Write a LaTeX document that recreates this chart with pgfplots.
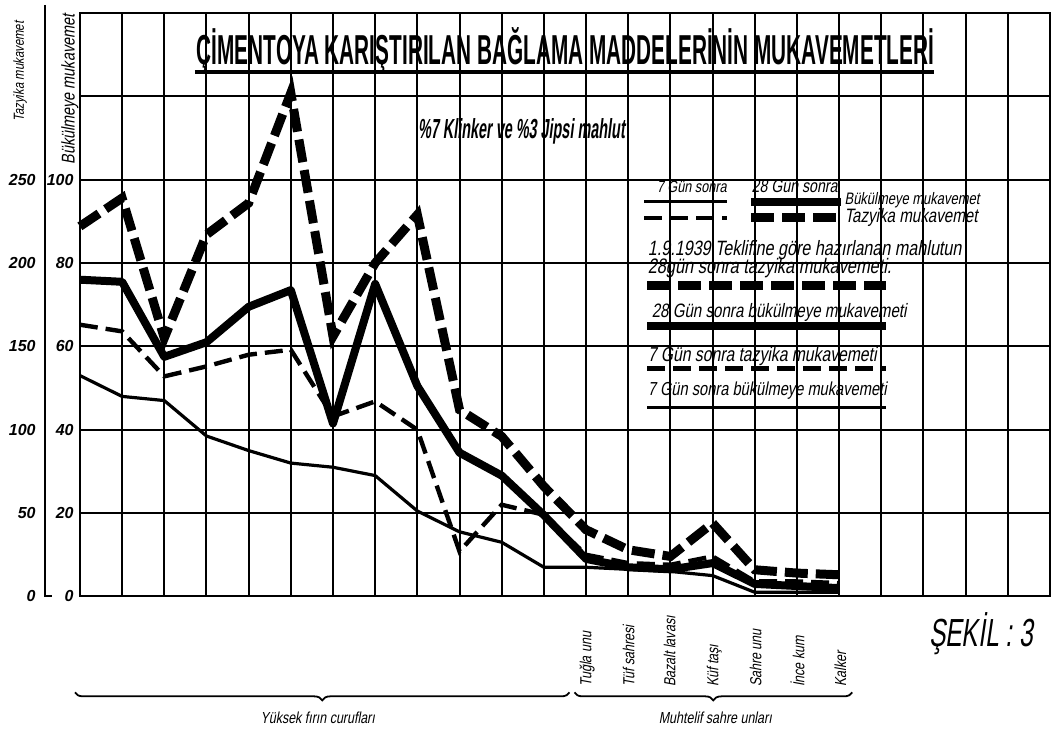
\documentclass[border=0pt]{standalone}
\usepackage{fontspec}
\setmainfont{Liberation Sans}
\newfontfamily\hand[FakeStretch=0.78,FakeSlant=0.18]{Liberation Sans}
\usepackage{graphicx}
\usepackage{pgfplots}
\usepackage{pgfplotstable}
\pgfplotsset{compat=1.18}
\usetikzlibrary{decorations.pathreplacing}

% x = position along the grid; taz = compressive (kg/cm2, left scale 0-250);
% bend = bending (kg/cm2, inner scale 0-100)
\pgfplotstableread{
x taz28 bend28 taz7 bend7
0 222 76 163 53
1 239 75.5 159 48
2 155 57.5 132 47
3 217 61 138 38.5
4 236 69.5 145 35
5 302 73.5 148 32
6 156 41.5 108 31
7 200 75 117 29
8 229 50.5 100 20.5
9 112 34.5 27 15.5
10 96 29 55 13
11 66 19.5 49 7
12 40 9 25 7
13 28 7 20 6.5
14 24 6.5 19 6
15 44 8 24 5
16 16 3 9 1
17 14 2.5 9 1
18 13 2 8 1
}\data

\tikzset{
  thickdash/.style={black, line width=4.5pt, dash pattern=on 11.5pt off 4pt},
  thicksolid/.style={black, line width=4pt, line join=round},
  thindash/.style={black, line width=2.2pt, dash pattern=on 9pt off 4pt},
  thinsolid/.style={black, line width=1.6pt, line join=round},
}
\newcommand{\lt}[2]{\resizebox{#1}{!}{\hand\fontsize{9}{9}\selectfont #2}}

\begin{document}
\begin{tikzpicture}
\begin{scope}[x=0.5pt,y=-0.5pt]
\path[use as bounding box] (0,0) rectangle (1051,732);
\end{scope}
\begin{axis}[
  at={(40pt,-298.5pt)}, anchor=south west,
  scale only axis, width=485.5pt, height=292pt,
  xmin=0, xmax=23, ymin=0, ymax=350,
  xtick={0,...,23}, ytick={0,50,...,350},
  xticklabels={{}},
  xticklabel style={inner sep=0pt, outer sep=0pt},
  yticklabels={0,20,40,60,80,100,{},{}},
  yticklabel style={font=\fontsize{8}{8}\selectfont\bfseries\itshape, anchor=east, inner sep=0pt, xshift=-3pt},
  major tick length=0pt,
  grid=major, major grid style={black, line width=1pt},
  axis line style={black, line width=1pt},
  clip=false,
]
\addplot[thickdash] table[x=x, y=taz28] {\data};
\addplot[thicksolid] table[x=x, y expr=\thisrow{bend28}*2.5] {\data};
\addplot[thindash] table[x=x, y=taz7] {\data};
\addplot[thinsolid] table[x=x, y expr=\thisrow{bend7}*2.5] {\data};
\end{axis}

\begin{scope}[x=0.5pt,y=-0.5pt]
% left scale line and compressive labels
\draw[black, line width=1pt] (45,5) -- (45,597) -- (52,597);
\foreach \v/\yy in {0/597,50/513.6,100/430.1,150/346.7,200/263.3,250/179.9}
  \node[anchor=east, inner sep=0pt, font=\fontsize{8}{8}\selectfont\bfseries\itshape] at (36,\yy) {\v};
\node[rotate=90, anchor=west, inner sep=0pt] at (20,122) {\lt{50pt}{Tazyika mukavemet}};
\node[rotate=90, anchor=west, inner sep=0pt] at (70,165) {\lt{75pt}{Bükülmeye mukavemet}};

% title
\node[anchor=base, inner sep=0pt] at (566,65) {\resizebox{369pt}{18.5pt}{\bfseries ÇİMENTOYA KARIŞTIRILAN BAĞLAMA MADDELERİNİN MUKAVEMETLERİ}};
\draw[black, line width=2pt] (195,72) -- (935,72);
\node[anchor=base west, inner sep=0pt] at (418,139) {\resizebox{103.5pt}{10pt}{\hand\bfseries \%7 Klinker ve \%3 Jipsi mahlut}};

% legend key
\node[anchor=base west, inner sep=0pt] at (657,193) {\lt{35pt}{7 Gün sonra}};
\node[anchor=base west, inner sep=0pt] at (752,193) {\lt{43pt}{28 Gün sonra}};
\draw[thinsolid] (645,202) -- (728,202);
\draw[thicksolid] (752,202) -- (842,202);
\node[anchor=base west, inner sep=0pt] at (845,205) {\lt{67.5pt}{Bükülmeye mukavemet}};
\draw[thindash] (645,218) -- (728,218);
\draw[thickdash] (752,218) -- (842,218);
\node[anchor=base west, inner sep=0pt] at (845,223) {\lt{66.5pt}{Tazyika mukavemet}};

\node[anchor=base west, inner sep=0pt] at (648,256) {\lt{157pt}{1.9.1939 Teklifine göre hazırlanan mahlutun}};
\node[anchor=base west, inner sep=0pt] at (648,274) {\lt{122pt}{28gün sonra tazyika mukavemeti.}};
\draw[thickdash] (648,286) -- (887,286);
\node[anchor=base west, inner sep=0pt] at (652,318) {\lt{127.5pt}{28 Gün sonra bükülmeye mukavemeti}};
\draw[thicksolid] (648,326) -- (887,326);
\node[anchor=base west, inner sep=0pt] at (648,362) {\lt{114.5pt}{7 Gün sonra tazyika mukavemeti}};
\draw[thindash] (648,369) -- (887,369);
\node[anchor=base west, inner sep=0pt] at (648,396) {\lt{119.5pt}{7 Gün sonra bükülmeye mukavemeti}};
\draw[thinsolid] (648,408) -- (887,408);

% category labels
\foreach \xx/\t in {587/Tuğla unu, 630/Tüf sahresi, 671/Bazalt lavası, 714/Küf taşı, 757/Sahre unu, 800/İnce kum, 842/Kalker}
  \node[rotate=90, anchor=base west, inner sep=0pt, font=\hand\fontsize{8}{8}\selectfont] at (\xx+5,688) {\t};

% braces
\draw[black, line width=0.9pt, decorate, decoration={brace, mirror, amplitude=4pt}] (75,693) -- (570,693);
\draw[black, line width=0.9pt, decorate, decoration={brace, mirror, amplitude=4pt}] (575,693) -- (853,693);
\node[anchor=base, inner sep=0pt, font=\hand\fontsize{8}{8}\selectfont] at (318,724) {Yüksek fırın curufları};
\node[anchor=base, inner sep=0pt, font=\hand\fontsize{8}{8}\selectfont] at (716,724) {Muhtelif sahre unları};

% figure number
\node[anchor=base, inner sep=0pt] at (982,647) {\resizebox{52pt}{17pt}{\hand ŞEKİL : 3}};
\end{scope}
\end{tikzpicture}
\end{document}
